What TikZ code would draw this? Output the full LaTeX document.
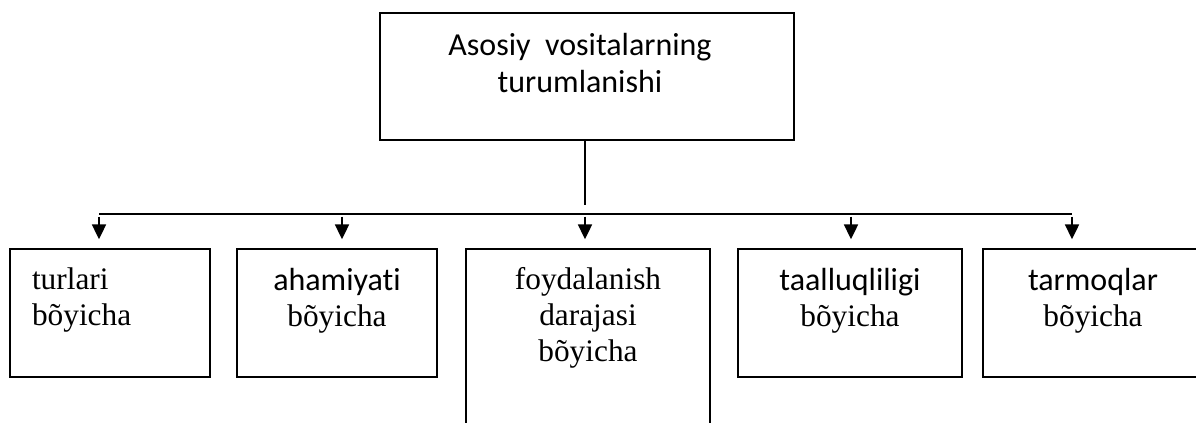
\documentclass[tikz,border=0pt]{standalone}
\usepackage{fontspec}
\setmainfont{Liberation Serif}
\newfontfamily\calibri[Ligatures=NoCommon]{Carlito}
\usetikzlibrary{positioning}
\usetikzlibrary{arrows.meta}

\begin{document}
\begin{tikzpicture}
[-,x=0.75pt,y=-0.75pt,line width=1.25pt,%
  every node/.style={inner sep=0pt},%
  box/.style={draw,line width=1.25pt,minimum height=96pt},%
  txt/.style={align=center,font=\fontsize{23.5}{27}\selectfont},%
  arr/.style={-{Triangle[width=10.5pt,length=11pt]},shorten <=2pt,shorten >=6.75pt}]
\clip (0,0) rectangle (1196,423);
% top box
\node[box,minimum width=310.5pt,minimum height=95.25pt] (root) at (587,76.5) {};
\node[txt,font=\calibri\fontsize{24}{27.75}\selectfont,
  below=15pt of root.north,xshift=-5.25pt] (rootlbl)
  {Asosiy\ \ vositalarning\\turumlanishi};
% the five kinds
\node[box,minimum width=150pt] (turlari) at (110,313) {};
\node[txt,align=left,below right=14pt and 16.5pt of turlari.north west] (turlarilbl)
  {turlari\\bõyicha};
\node[box,minimum width=150pt] (ahamiyat) at (337,313) {};
\node[txt,below=14.5pt of ahamiyat.north] (ahamiyatlbl)
  {{\calibri\fontsize{24}{27}\selectfont ahamiyati}\\bõyicha};
\node[box,minimum width=183pt,minimum height=150pt] (foyda) at (588,349) {};
\node[txt,below=14pt of foyda.north] (foydalbl)
  {foydalanish\\darajasi\\bõyicha};
\node[box,minimum width=168pt] (taalluq) at (850,313) {};
\node[txt,below=14.5pt of taalluq.north] (taalluqlbl)
  {{\calibri\fontsize{24}{27}\selectfont taalluqliligi}\\bõyicha};
\node[box,minimum width=165pt] (tarmoq) at (1093,313) {};
\node[txt,below=14.5pt of tarmoq.north] (tarmoqlbl)
  {{\calibri\fontsize{24}{27}\selectfont tarmoqlar}\\bõyicha};
% connectors
\coordinate (stem) at (585,205);
\coordinate (b1) at (99,214);
\coordinate (b2) at (342,214);
\coordinate (b3) at (585,214);
\coordinate (b4) at (851,214);
\coordinate (b5) at (1072,214);
\draw (root.south -| stem) -- (stem);
\draw (b1) -- (b5);
\draw[arr] (b1) -- (b1 |- turlari.north);
\draw[arr] (b2) -- (b2 |- ahamiyat.north);
\draw[arr] (b3) -- (b3 |- foyda.north);
\draw[arr] (b4) -- (b4 |- taalluq.north);
\draw[arr] (b5) -- (b5 |- tarmoq.north);
\end{tikzpicture}
\end{document}
